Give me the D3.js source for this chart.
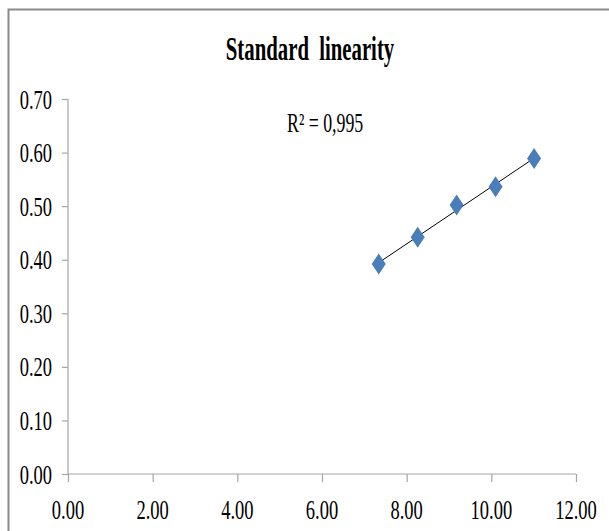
<!DOCTYPE html>
<html>
<head>
<meta charset="utf-8">
<script src="https://cdn.jsdelivr.net/npm/d3@7"></script>
<style>
  body { margin: 0; background: #fff; }
  text { font-family: "Liberation Serif", "Times New Roman", serif; fill: #000; }
</style>
</head>
<body>
<div class="chart"></div>
<script>
// values
var xValues = [7.34, 8.26, 9.18, 10.10, 11.01];
var yValues = [0.392, 0.442, 0.502, 0.536, 0.589];
var xTicks = [0, 2, 4, 6, 8, 10, 12];
var yTicks = [0, 0.1, 0.2, 0.3, 0.4, 0.5, 0.6, 0.7];
var title = "Standard linearity";
var rsqLabel = "R\u00b2 = 0,995";

var squish = 0.66; // text in the picture is narrowed sideways

var svg = d3.select(".chart").append("svg")
  .attr("width", 609)
  .attr("height", 531);

// chart frame
svg.append("rect")
  .attr("x", 8.5).attr("y", 9.5)
  .attr("width", 640).attr("height", 560)
  .attr("fill", "none")
  .attr("stroke", "#8a8a8a")
  .attr("stroke-width", 2);

var x = d3.scaleLinear().domain([0, 12]).range([68, 576]);
var y = d3.scaleLinear().domain([0, 0.7]).range([474, 99]);

function label(g, px, py, str, anchor, size, weight, sx) {
  return g.append("text")
    .attr("transform", "translate(" + px + "," + py + ") scale(" + (sx || squish) + ",1)")
    .attr("text-anchor", anchor)
    .style("font-size", size + "px")
    .style("font-weight", weight || "normal")
    .text(str);
}

// axes
var yAxis = svg.append("g")
  .attr("transform", "translate(" + x(0) + ",0)")
  .call(d3.axisLeft(y).tickValues(yTicks).tickSize(6).tickFormat(""));
var xAxis = svg.append("g")
  .attr("transform", "translate(0," + y(0) + ")")
  .call(d3.axisBottom(x).tickValues(xTicks).tickSize(8).tickFormat(""));
svg.selectAll(".domain").attr("stroke", "#a6a6a6").attr("stroke-width", 1.2);
svg.selectAll(".tick line").attr("stroke", "#a6a6a6").attr("stroke-width", 1.2);
yAxis.select(".domain").attr("d", "M0," + y(0.7) + "V" + y(0));
xAxis.select(".domain").attr("d", "M" + x(0) + ",0H" + x(12));

var labels = svg.append("g");
yTicks.forEach(function(t) {
  label(labels, 52, y(t) + 9.5, t.toFixed(2), "end", 28);
});
xTicks.forEach(function(t) {
  label(labels, x(t), 519, t.toFixed(2), "middle", 28);
});

// title
label(svg, 310, 60, title, "middle", 33, "bold", 0.63)
  .style("word-spacing", "8px");

// linear trendline (least squares over the points)
var n = xValues.length;
var mx = d3.mean(xValues), my = d3.mean(yValues);
var sxy = 0, sxx = 0;
for (var i = 0; i < n; i++) {
  sxy += (xValues[i] - mx) * (yValues[i] - my);
  sxx += (xValues[i] - mx) * (xValues[i] - mx);
}
var slope = sxy / sxx, icept = my - slope * mx;
var x0 = d3.min(xValues), x1 = d3.max(xValues);
svg.append("line")
  .attr("x1", x(x0)).attr("y1", y(icept + slope * x0))
  .attr("x2", x(x1)).attr("y2", y(icept + slope * x1))
  .attr("stroke", "#000")
  .attr("stroke-width", 1);

// diamond markers
svg.selectAll(".pt")
  .data(d3.zip(xValues, yValues))
  .enter().append("path")
  .attr("class", "pt")
  .attr("transform", function(d) { return "translate(" + x(d[0]) + "," + y(d[1]) + ")"; })
  .attr("d", "M0,-10.5L7,0L0,10.5L-7,0Z")
  .attr("fill", "#4a7ebb");

// R squared note
label(svg, 287, 132, rsqLabel, "start", 27);
</script>
</body>
</html>
